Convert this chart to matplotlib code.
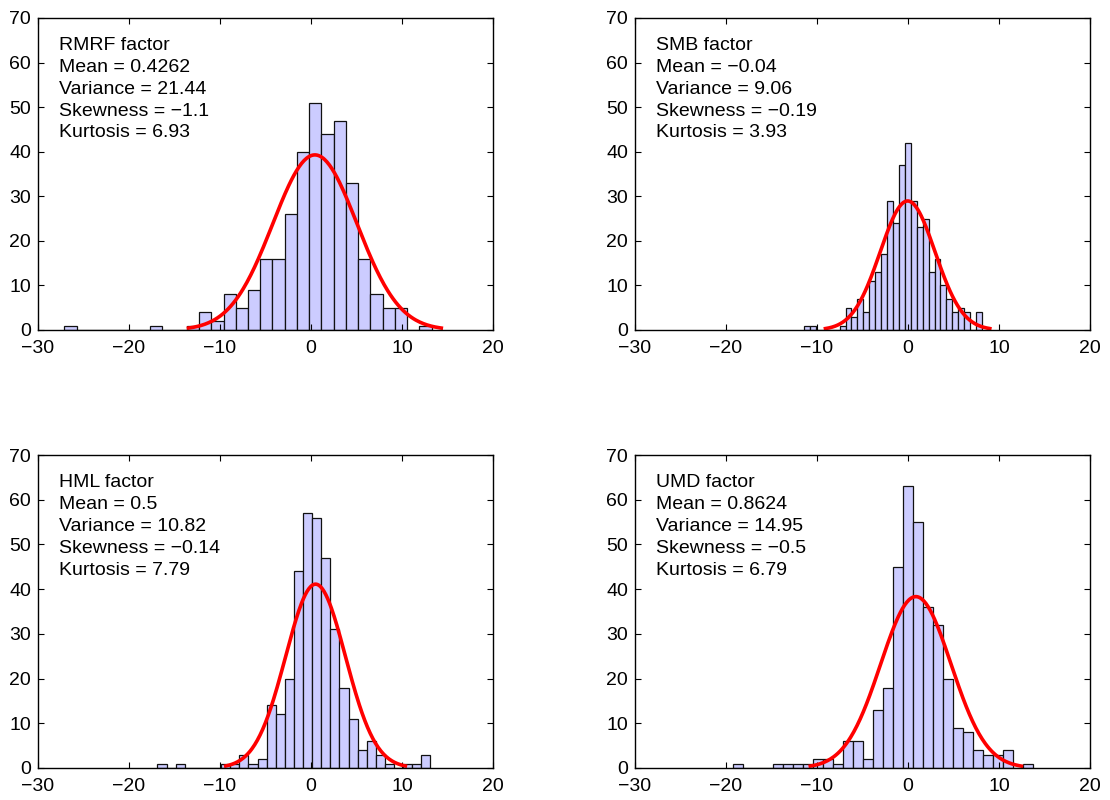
import numpy as np
import matplotlib
matplotlib.use("Agg")
import matplotlib.pyplot as plt

plt.rcParams["font.family"] = ["Liberation Sans", "DejaVu Sans"]

# Factor names and summary statistics
names = ["RMRF", "SMB", "HML", "UMD"]
means = [0.4262, -0.04, 0.5, 0.8624]
variances = [21.44, 9.06, 10.82, 14.95]
skews = [-1.1, -0.19, -0.14, -0.5]
kurts = [6.93, 3.93, 7.79, 6.79]

# Histogram bins: left edge of first bin and bin width (30 bins each)
bin_lo = [-27.1, -11.43, -16.87, -19.2]
bin_w = [1.345, 0.652, 1.0, 1.099]

# Bin counts
rmrf_counts = [1, 0, 0, 0, 0, 0, 0, 1, 0, 0, 1, 4, 2, 8, 5, 9, 16, 16, 26, 40,
               51, 44, 47, 33, 16, 8, 5, 5, 0, 1]
smb_counts = [1, 1, 0, 0, 0, 0, 1, 5, 3, 7, 4, 11, 13, 17, 29, 24, 37, 42, 29, 23,
              25, 13, 16, 10, 7, 4, 5, 4, 0, 4]
hml_counts = [1, 0, 1, 0, 0, 0, 0, 1, 1, 3, 1, 2, 14, 12, 20, 44, 57, 56, 47, 31,
              18, 11, 4, 6, 3, 1, 0, 1, 1, 3]
umd_counts = [1, 0, 0, 0, 1, 1, 1, 1, 2, 2, 1, 6, 6, 2, 13, 18, 45, 63, 55, 36,
              32, 20, 9, 8, 4, 3, 3, 4, 0, 1]
all_counts = [rmrf_counts, smb_counts, hml_counts, umd_counts]


def fmt(v):
    return f"{v:g}".replace("-", "\u2212")


fig = plt.figure(figsize=(11.1, 8), dpi=100)
W, H = 1110, 800
# axes boxes in pixels: left, top, right, bottom
boxes = [(38, 18, 493, 330), (635, 18, 1090, 330),
         (38, 455, 493, 768), (635, 455, 1090, 768)]

for i, (l, t, r, b) in enumerate(boxes):
    ax = fig.add_axes([l / W, 1 - b / H, (r - l) / W, (b - t) / H])
    counts = np.array(all_counts[i])
    w = bin_w[i]
    lefts = bin_lo[i] + w * np.arange(len(counts))
    ax.bar(lefts, counts, width=w, align="edge", color="#ccccff",
           edgecolor="#111111", linewidth=0.9)

    # fitted normal curve, mean +/- 3 sd
    sd = np.sqrt(variances[i])
    xs = np.linspace(means[i] - 3 * sd, means[i] + 3 * sd, 200)
    ys = counts.sum() * w * np.exp(-0.5 * ((xs - means[i]) / sd) ** 2) / (sd * np.sqrt(2 * np.pi))
    ax.plot(xs, ys, color="red", linewidth=2.6)

    ax.set_xlim(-30, 20)
    ax.set_ylim(0, 70)
    ax.set_xticks(range(-30, 21, 10))
    ax.set_yticks(range(0, 71, 10))
    ax.tick_params(direction="in", top=True, right=True, length=4,
                   labelsize=14, width=0.8)
    ax.tick_params(axis="x", pad=7)
    ax.tick_params(axis="y", pad=5)
    for s in ax.spines.values():
        s.set_linewidth(1.0)

    txt = (f"{names[i]} factor\nMean = {fmt(means[i])}\nVariance = {fmt(variances[i])}\n"
           f"Skewness = {fmt(skews[i])}\nKurtosis = {fmt(kurts[i])}")
    ax.text(0.047, 0.94, txt, transform=ax.transAxes, fontsize=14,
            va="top", ha="left", linespacing=1.38)

fig.savefig("out.png", dpi=100)
